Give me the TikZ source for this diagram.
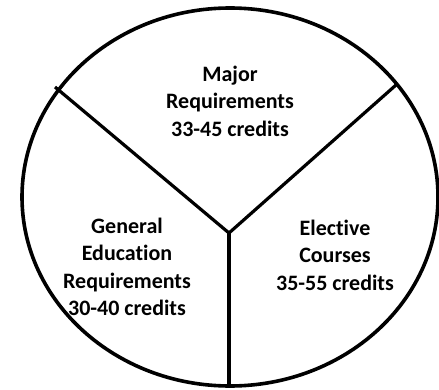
\documentclass[tikz,border=0pt]{standalone}
\usepackage{fontspec}
\setmainfont{Carlito}[RawFeature=-liga]
\usetikzlibrary{positioning}
\tikzset{part label/.style={align=center, font=\fontsize{22}{27.5}\selectfont\bfseries, inner sep=0pt},
  divider/.style={line width=3.2pt},}

\begin{document}
\begin{tikzpicture}[x=1pt,y=1pt]
    \useasboundingbox (0,0) rectangle (439,389);
    \draw[line width=3.6pt] (230,192) ellipse [x radius=208, y radius=189];

    \coordinate (hub) at (229,156);
    \coordinate (lft) at (55,302);
    \coordinate (rgt) at (396,304);
    \coordinate (bot) at (229,3);

    \node[part label] (major) at (230,288) {Major\\Requirements\\33-45 credits};
    \node[part label] (gened) at (127,122) {General\\Education\\Requirements\\30-40 credits};
    \node[part label] (elect) at (335,134) {Elective\\Courses\\35-55 credits};

    \draw[divider] (hub) -- (lft);
    \draw[divider] (hub) -- (rgt);
    \draw[divider] (hub) -- (bot);
  \end{tikzpicture}
\end{document}
